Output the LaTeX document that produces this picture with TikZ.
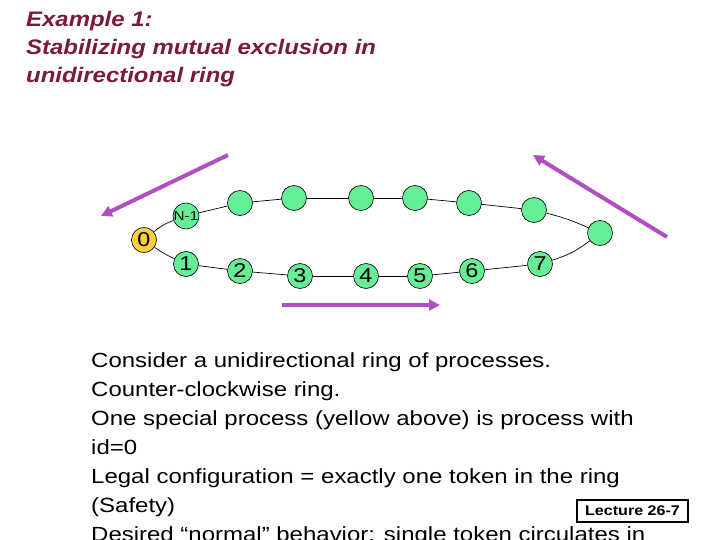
\documentclass[tikz,border=0pt]{standalone}
\usepackage{fontspec}
\setmainfont{Liberation Sans}
\newfontfamily\bodyfont[FakeStretch=1.17]{Liberation Sans}
\newfontfamily\titlefont[FakeStretch=1.14]{Liberation Sans}
\newfontfamily\lecfont[FakeStretch=1.15]{Liberation Sans}
\usetikzlibrary{arrows.meta}
\definecolor{gnode}{RGB}{102,238,150}
\definecolor{ynode}{RGB}{250,206,60}
\definecolor{purp}{RGB}{176,80,192}
\definecolor{maroon}{RGB}{122,26,60}
\tikzset{
  proc/.style={circle,draw=black,line width=0.6pt,fill=gnode,minimum size=25pt,inner sep=0pt,font=\bodyfont\fontsize{20}{20}\selectfont},
  special/.style={proc,fill=ynode},
  ring/.style={draw=black,line width=0.7pt},
  dirarrow/.style={draw=purp,line width=4pt,-{Triangle[length=11pt,width=11pt]}},
  body/.style={anchor=base west,inner sep=0pt,font=\bodyfont\fontsize{20.5}{20}\selectfont},
  title/.style={anchor=base west,inner sep=0pt,text=maroon,font=\titlefont\fontsize{21}{21}\selectfont\bfseries\itshape},
}
\begin{document}
\begin{tikzpicture}[x=1pt,y=-1pt]
\useasboundingbox (0,0) rectangle (720,540);
\fill[white] (0,0) rectangle (720,540);
% title
\node[title] (t1) at (26,27) {Example 1:};
\node[title] (t2) at (26,55) {Stabilizing mutual exclusion in};
\node[title] (t3) at (26,83) {unidirectional ring};
% ring nodes
\node[special] (p0) at (144,240) {0};
\node[proc,font=\bodyfont\fontsize{13}{13}\selectfont] (pn) at (186,216) {N-1};
\node[proc] (a1) at (240,203) {};
\node[proc] (a2) at (294,198) {};
\node[proc] (a3) at (361,198) {};
\node[proc] (a4) at (415,198) {};
\node[proc] (a5) at (469,203) {};
\node[proc] (a6) at (534,210) {};
\node[proc] (a7) at (600,233) {};
\node[proc] (p1) at (186,264) {1};
\node[proc] (p2) at (240,271) {2};
\node[proc] (p3) at (300,276) {3};
\node[proc] (p4) at (366,276) {4};
\node[proc] (p5) at (420,276) {5};
\node[proc] (p6) at (472,271) {6};
\node[proc] (p7) at (540,264) {7};
% ring connectors
\draw[ring] (p0) to[bend left=10] (pn);
\draw[ring] (pn) -- (a1);
\draw[ring] (a1) -- (a2);
\draw[ring] (a2) -- (a3);
\draw[ring] (a3) -- (a4);
\draw[ring] (a4) -- (a5);
\draw[ring] (a5) -- (a6);
\draw[ring] (a6) to[bend left=5] (a7);
\draw[ring] (a7) to[bend left=10] (p7);
\draw[ring] (p7) -- (p6);
\draw[ring] (p6) -- (p5);
\draw[ring] (p5) -- (p4);
\draw[ring] (p4) -- (p3);
\draw[ring] (p3) -- (p2);
\draw[ring] (p2) -- (p1);
\draw[ring] (p1) to[bend left=5] (p0);
% direction arrows
\coordinate (la) at (228,155);
\coordinate (lb) at (101,216);
\coordinate (ra) at (667,237);
\coordinate (rb) at (533,155);
\coordinate (ba) at (282,305);
\coordinate (bb) at (440,305);
\draw[dirarrow] (la) -- (lb);
\draw[dirarrow] (ra) -- (rb);
\draw[dirarrow] (ba) -- (bb);
% body text
\node[body] (b1) at (91,367) {Consider a unidirectional ring of processes.};
\node[body] (b2) at (91,396) {Counter-clockwise ring.};
\node[body] (b3) at (91,425) {One special process (yellow above) is process with};
\node[body] (b4) at (91,454) {id=0};
\node[body] (b5) at (91,483) {Legal configuration = exactly one token in the ring};
\node[body] (b6) at (91,512) {(Safety)};
\node[body] (b7) at (91,541) {Desired “normal” behavior: single token circulates in};
% lecture label
\node[draw=black,line width=1.2pt,fill=white,inner sep=2pt,minimum width=111pt,minimum height=22pt,font=\lecfont\fontsize{14}{14}\selectfont\bfseries] (lec) at (632.5,511) {Lecture 26-7};
\end{tikzpicture}
\end{document}
